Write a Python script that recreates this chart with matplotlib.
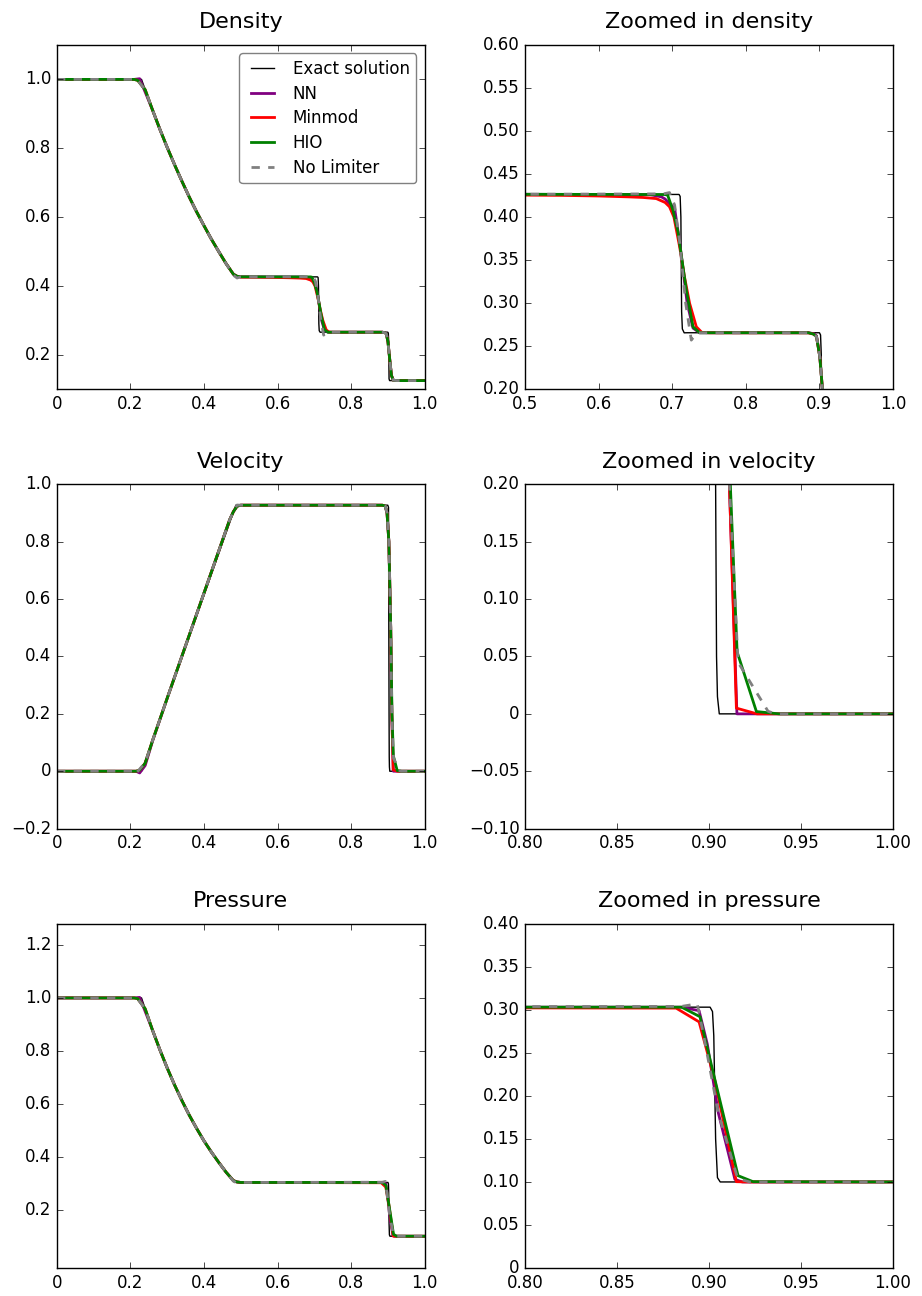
import numpy as np
import matplotlib
matplotlib.use("Agg")
import matplotlib.pyplot as plt
from matplotlib.ticker import FuncFormatter

# ---- data (Sod shock tube) ----
methods = ['NN', 'Minmod', 'HIO', 'No Limiter']

# rarefaction fan samples shared by the curves
fan_x = [0.24, 0.26, 0.28, 0.30, 0.32, 0.34, 0.36, 0.38, 0.40, 0.42, 0.44, 0.46]
fan_rho = [0.970, 0.911, 0.855, 0.802, 0.752, 0.704, 0.658, 0.615, 0.575, 0.536, 0.500, 0.465]
fan_u = [0.036, 0.109, 0.182, 0.255, 0.328, 0.401, 0.474, 0.547, 0.621, 0.694, 0.767, 0.840]
fan_p = [0.959, 0.878, 0.804, 0.735, 0.671, 0.612, 0.557, 0.507, 0.460, 0.418, 0.379, 0.342]

# exact solution
ex_rho_x = [0.0, 0.230] + fan_x + [0.48, 0.487, 0.709, 0.7105, 0.7115, 0.7125, 0.7135, 0.716, 0.72,
                                   0.900, 0.9015, 0.9025, 0.9035, 0.905, 1.0]
ex_rho = [1.0, 1.0] + fan_rho + [0.4325, 0.4263, 0.4263, 0.424, 0.40, 0.29, 0.27, 0.2655, 0.2656,
                                  0.2656, 0.263, 0.24, 0.13, 0.125, 0.125]
ex_u_x = [0.0, 0.230, 0.4867, 0.900, 0.902, 0.9035, 0.904, 0.9045, 0.9055, 0.91, 1.0]
ex_u = [0.0, 0.0, 0.9274, 0.9274, 0.92, 0.2, 0.05, 0.015, 0.0, 0.0, 0.0]
ex_p_x = [0.0, 0.230] + fan_x + [0.48, 0.487, 0.9005, 0.9018, 0.9025, 0.9035, 0.9045, 0.906, 1.0]
ex_p = [1.0, 1.0] + fan_p + [0.3093, 0.3031, 0.3031, 0.298, 0.27, 0.15, 0.105, 0.100, 0.100]

# density, numerical
rho_x = {
    'NN': [0.0, 0.21, 0.225] + fan_x[1:] + [0.48, 0.49, 0.50, 0.67, 0.685, 0.69, 0.703, 0.71, 0.72, 0.728, 0.737,
                                           0.885, 0.8925, 0.896, 0.9005, 0.905, 0.91, 0.915, 0.925, 1.0],
    'Minmod': [0.0, 0.21, 0.22] + fan_x + [0.48, 0.49, 0.50, 0.55, 0.60, 0.64, 0.66, 0.678, 0.69, 0.696, 0.702,
                                          0.7098, 0.7165, 0.7234, 0.7325, 0.74, 0.75,
                                          0.885, 0.892, 0.896, 0.9005, 0.905, 0.91, 0.915, 0.925, 1.0],
    'HIO': [0.0, 0.21, 0.22] + fan_x + [0.48, 0.49, 0.50, 0.69, 0.6935, 0.7007, 0.7075, 0.7189, 0.728, 0.737,
                                       0.885, 0.892, 0.896, 0.9005, 0.905, 0.91, 0.915, 0.925, 1.0],
    'No Limiter': [0.0, 0.205, 0.215] + fan_x + [0.48, 0.49, 0.50, 0.688, 0.696, 0.703, 0.71, 0.718, 0.7257, 0.733,
                                                0.885, 0.892, 0.896, 0.9005, 0.905, 0.91, 0.915, 0.925, 1.0],
}
rho_v = {
    'NN': [1.0, 1.0, 1.002] + fan_rho[1:] + [0.434, 0.428, 0.4265, 0.426, 0.4235, 0.421, 0.41, 0.37, 0.30, 0.271, 0.2656,
                                            0.2656, 0.2645, 0.262, 0.238, 0.19, 0.14, 0.126, 0.125, 0.125],
    'Minmod': [1.0, 1.0, 0.997] + fan_rho + [0.434, 0.428, 0.4255, 0.4252, 0.4245, 0.4235, 0.4228, 0.4215, 0.417, 0.412,
                                            0.400, 0.3655, 0.33, 0.2997, 0.2725, 0.266, 0.2655,
                                            0.2655, 0.264, 0.261, 0.2376, 0.19, 0.14, 0.126, 0.125, 0.125],
    'HIO': [1.0, 1.0, 0.997] + fan_rho + [0.434, 0.428, 0.4265, 0.4262, 0.4255, 0.408, 0.383, 0.315, 0.2725, 0.2656,
                                         0.2656, 0.264, 0.261, 0.2376, 0.19, 0.14, 0.126, 0.125, 0.125],
    'No Limiter': [1.0, 1.0, 1.003] + fan_rho + [0.431, 0.423, 0.4265, 0.427, 0.4285, 0.414, 0.37, 0.30, 0.257, 0.2655,
                                                0.2656, 0.264, 0.261, 0.2376, 0.19, 0.14, 0.126, 0.125, 0.125],
}

# velocity, numerical
u_x = {
    'NN': [0.0, 0.215, 0.225, 0.24, 0.26, 0.30, 0.40, 0.47, 0.48, 0.49, 0.50, 0.885, 0.893, 0.898, 0.903,
           0.908, 0.911, 0.9151, 0.93, 1.0],
    'Minmod': [0.0, 0.215, 0.225, 0.24, 0.26, 0.30, 0.40, 0.47, 0.48, 0.49, 0.50, 0.885, 0.893, 0.898, 0.903,
               0.908, 0.911, 0.9148, 0.926, 1.0],
    'HIO': [0.0, 0.215, 0.225, 0.24, 0.26, 0.30, 0.40, 0.47, 0.48, 0.49, 0.50, 0.885, 0.893, 0.898, 0.903,
            0.908, 0.9115, 0.9152, 0.9257, 0.938, 1.0],
    'No Limiter': [0.0, 0.205, 0.212, 0.22, 0.24, 0.26, 0.30, 0.40, 0.47, 0.48, 0.49, 0.50, 0.885, 0.893, 0.898,
                   0.903, 0.908, 0.911, 0.9157, 0.932, 0.936, 1.0],
}
u_v = {
    'NN': [0.0, 0.0, -0.006, 0.02, 0.105, 0.255, 0.621, 0.877, 0.905, 0.924, 0.9274, 0.9274, 0.925, 0.90, 0.80,
           0.50, 0.20, 0.0, 0.0, 0.0],
    'Minmod': [0.0, 0.0, 0.004, 0.028, 0.107, 0.255, 0.621, 0.877, 0.905, 0.924, 0.9274, 0.9274, 0.925, 0.90,
               0.80, 0.50, 0.20, 0.005, 0.0, 0.0],
    'HIO': [0.0, 0.0, 0.004, 0.028, 0.107, 0.255, 0.621, 0.877, 0.905, 0.924, 0.9274, 0.9274, 0.925, 0.90, 0.80,
            0.50, 0.20, 0.054, 0.002, 0.0, 0.0],
    'No Limiter': [0.0, 0.0, -0.012, 0.0, 0.030, 0.107, 0.255, 0.621, 0.877, 0.905, 0.928, 0.9274, 0.9274, 0.925,
                   0.90, 0.80, 0.50, 0.20, 0.045, 0.0023, 0.0, 0.0],
}

# pressure, numerical
p_x = {
    'NN': [0.0, 0.21, 0.225] + fan_x[1:] + [0.48, 0.49, 0.50, 0.885, 0.8945, 0.899, 0.905, 0.914, 0.918, 1.0],
    'Minmod': [0.0, 0.21, 0.22] + fan_x + [0.48, 0.49, 0.50, 0.882, 0.8945, 0.903, 0.9148, 0.92, 1.0],
    'HIO': [0.0, 0.21, 0.22] + fan_x + [0.48, 0.49, 0.50, 0.885, 0.895, 0.8966, 0.9157, 0.9239, 1.0],
    'No Limiter': [0.0, 0.205, 0.215] + fan_x + [0.48, 0.49, 0.50, 0.885, 0.8935, 0.897, 0.905, 0.9155, 0.922, 1.0],
}
p_v = {
    'NN': [1.0, 1.0, 1.002] + fan_p[1:] + [0.310, 0.305, 0.3031, 0.3031, 0.299, 0.26, 0.18, 0.103, 0.100, 0.100],
    'Minmod': [1.0, 1.0, 0.997] + fan_p + [0.310, 0.305, 0.3031, 0.302, 0.286, 0.2186, 0.1003, 0.100, 0.100],
    'HIO': [1.0, 1.0, 0.997] + fan_p + [0.310, 0.305, 0.3031, 0.3031, 0.292, 0.2767, 0.1073, 0.1003, 0.100],
    'No Limiter': [1.0, 1.0, 1.004] + fan_p + [0.308, 0.301, 0.3031, 0.304, 0.307, 0.27, 0.18, 0.104, 0.100, 0.100],
}

colors = {'NN': 'purple', 'Minmod': 'r', 'HIO': 'g', 'No Limiter': 'gray'}
styles = {'NN': '-', 'Minmod': '-', 'HIO': '-', 'No Limiter': '--'}

# panel settings: title, xlim, ylim, xticks, yticks, x decimals, y decimals
panels = [
    ('Density', (0, 1), (0.1, 1.1), [0, 0.2, 0.4, 0.6, 0.8, 1.0], [0.2, 0.4, 0.6, 0.8, 1.0], 1, 1),
    ('Zoomed in density', (0.5, 1), (0.2, 0.6), [0.5, 0.6, 0.7, 0.8, 0.9, 1.0],
     [0.2, 0.25, 0.3, 0.35, 0.4, 0.45, 0.5, 0.55, 0.6], 1, 2),
    ('Velocity', (0, 1), (-0.2, 1.0), [0, 0.2, 0.4, 0.6, 0.8, 1.0], [-0.2, 0, 0.2, 0.4, 0.6, 0.8, 1.0], 1, 1),
    ('Zoomed in velocity', (0.8, 1), (-0.1, 0.2), [0.8, 0.85, 0.9, 0.95, 1.0],
     [-0.1, -0.05, 0, 0.05, 0.1, 0.15, 0.2], 2, 2),
    ('Pressure', (0, 1), (-0.02, 1.28), [0, 0.2, 0.4, 0.6, 0.8, 1.0], [0.2, 0.4, 0.6, 0.8, 1.0, 1.2], 1, 1),
    ('Zoomed in pressure', (0.8, 1), (0.0, 0.4), [0.8, 0.85, 0.9, 0.95, 1.0],
     [0, 0.05, 0.1, 0.15, 0.2, 0.25, 0.3, 0.35, 0.4], 2, 2),
]


def fmt(dec):
    def f(v, pos):
        if abs(v) < 1e-12:
            return '0'
        return (('%.' + str(dec) + 'f') % v).replace('-', '\u2212')
    return FuncFormatter(f)


plt.style.use('classic')
fig, axes = plt.subplots(3, 2, figsize=(9.22, 12.96), dpi=100, facecolor='white')
fig.subplots_adjust(left=0.0618, right=0.9685, top=0.9653, bottom=0.0216, wspace=0.2745, hspace=0.2765)

data = [(ex_rho_x, ex_rho, rho_x, rho_v), (ex_u_x, ex_u, u_x, u_v), (ex_p_x, ex_p, p_x, p_v)]

for row in range(3):
    exx, exy, mx, my = data[row]
    for col in range(2):
        ax = axes[row, col]
        title, xl, yl, xt, yt, xd, yd = panels[2 * row + col]
        ax.plot(exx, exy, 'k-', lw=1, label='Exact solution')
        for m in methods:
            ax.plot(mx[m], my[m], linestyle=styles[m], color=colors[m], lw=2, label=m)
        ax.set_xlim(xl)
        ax.set_ylim(yl)
        ax.set_xticks(xt)
        ax.set_yticks(yt)
        ax.xaxis.set_major_formatter(fmt(xd))
        ax.yaxis.set_major_formatter(fmt(yd))
        ax.set_title(title, fontsize=16, pad=12)
        ax.tick_params(labelsize=12)

leg = axes[0, 0].legend(loc='upper right', fontsize=12, fancybox=True, framealpha=1.0, labelspacing=0.4)
leg.get_frame().set_edgecolor('gray')

fig.savefig('out.png', dpi=100, facecolor='white')
